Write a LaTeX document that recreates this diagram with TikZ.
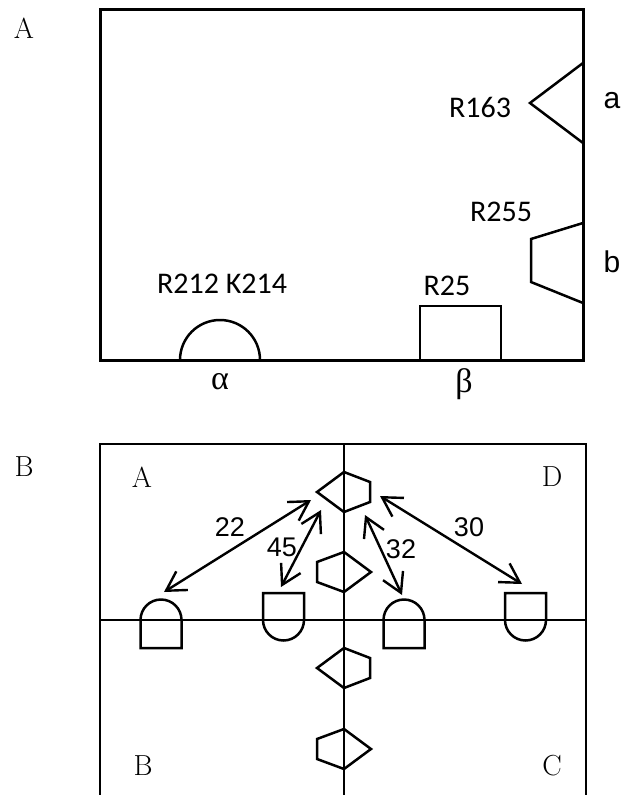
\documentclass[tikz,border=0pt]{standalone}
\usepackage{fontspec}
\newfontfamily\calibfont{Carlito}
\newfontfamily\arialfont{Liberation Sans}
\newfontfamily\greekfont{Liberation Serif}
\usetikzlibrary{arrows.meta}

\begin{document}
\begin{tikzpicture}[x=1pt,y=-1pt,
                frame/.style={line width=3pt},
                shp/.style={line width=2.5pt, line join=miter},
                panel/.style={font=\fontsize{29}{31}\selectfont, inner sep=0pt},
                site/.style={font=\calibfont\fontsize{30}{32}\selectfont, inner sep=0pt},
                side/.style={font=\arialfont\fontsize{30}{32}\selectfont, inner sep=0pt},
                greek/.style={font=\greekfont\fontsize{34}{36}\selectfont, inner sep=0pt},
                dist/.style={font=\arialfont\fontsize{27}{29}\selectfont, inner sep=0pt},
                arr/.style={<->, >={Straight Barb[length=19pt,width=22pt]}, line width=2.4pt},
            ]
            \useasboundingbox (0,0) rectangle (626,795);

            % panel A
            \node[panel] (labA) at (24,28) {A};
            \draw[frame] (100,9) rectangle (583,360);
            \draw[shp] (583,63) -- (530,103) -- (583,143);
            \draw[shp] (583,223) -- (531,239) -- (531,282) -- (583,303);
            \draw[shp] (180,360) arc[start angle=180, end angle=360, radius=40];
            \draw[shp] (420,360) -- (420,306) -- (501,306) -- (501,360);
            \node[site] (r163) at (480,107) {R163};
            \node[site] (r255) at (501,212) {R255};
            \node[site] (r212) at (222,284) {R212 K214};
            \node[site] (r25)  at (447,286) {R25};
            \node[side] (sa) at (612,101) {a};
            \node[side] (sb) at (612,262) {b};
            \node[greek] (ga) at (220,382) {α};
            \node[greek] (gb) at (464,384) {β};

            % panel B
            \node[panel] (labB) at (24,467) {B};
            \draw[shp] (100,795) -- (100,444) -- (586,444) -- (586,795);
            \draw[shp] (100,620) -- (586,620);
            \draw[shp] (344,444) -- (344,795);
            \node[panel] (qA) at (142,477) {A};
            \node[panel] (qD) at (552,477) {D};
            \node[panel] (qB) at (143,766) {B};
            \node[panel] (qC) at (552,766) {C};

            \foreach \cy in {492,668}
                \draw[shp] (317,\cy) -- (344,\cy-20) -- (370,\cy-10) -- (370,\cy+10) -- (344,\cy+20) -- cycle;
            \foreach \cy in {572,749}
                \draw[shp] (371,\cy) -- (344,\cy-20) -- (317,\cy-10) -- (317,\cy+10) -- (344,\cy+20) -- cycle;

            \foreach \cx in {161,404}
                \draw[shp] (\cx-20.5,648) -- (\cx-20.5,620) arc[start angle=180, end angle=360, radius=20.5] -- (\cx+20.5,648) -- cycle;
            \foreach \cx in {283.5,525.5}
                \draw[shp] (\cx-20.5,593) -- (\cx+20.5,593) -- (\cx+20.5,620) arc[start angle=0, end angle=180, radius=20.5] -- cycle;

            \coordinate (t22) at (311,500);  \coordinate (h22) at (164,592);
            \coordinate (t45) at (321,510);  \coordinate (h45) at (281,587);
            \coordinate (t32) at (365,515);  \coordinate (h32) at (402,595);
            \coordinate (t30) at (380,496);  \coordinate (h30) at (522,584);
            \draw[arr] (t22) -- (h22);
            \draw[arr] (t45) -- (h45);
            \draw[arr] (t32) -- (h32);
            \draw[arr] (t30) -- (h30);
            \node[dist] (d22) at (230,527) {22};
            \node[dist] (d45) at (282,547) {45};
            \node[dist] (d32) at (401,549) {32};
            \node[dist] (d30) at (469,527) {30};
        \end{tikzpicture}
\end{document}
